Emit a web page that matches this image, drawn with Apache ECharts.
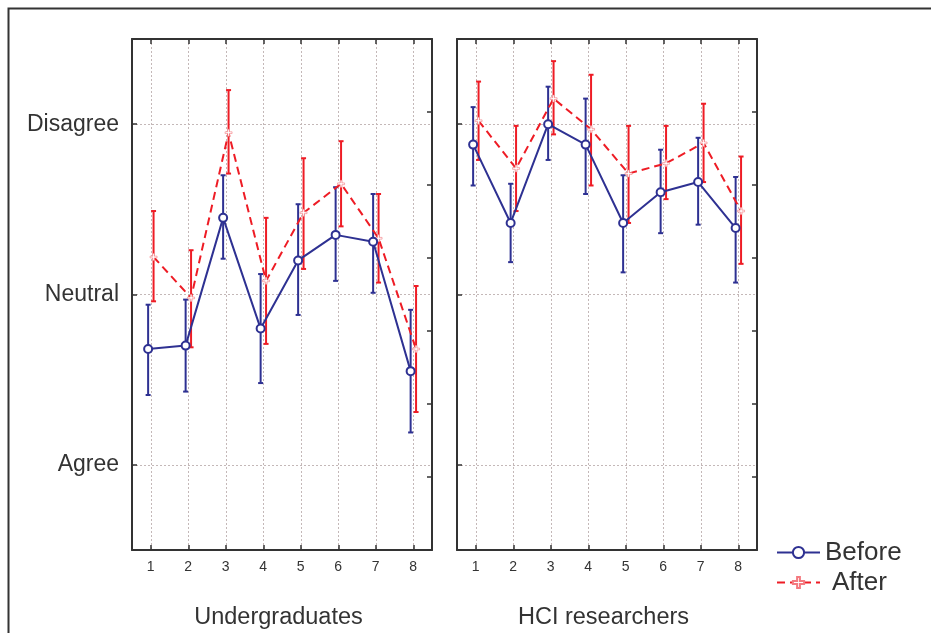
<!DOCTYPE html>
<html>
<head>
<meta charset="utf-8">
<script src="https://cdn.jsdelivr.net/npm/echarts@6/dist/echarts.min.js"></script>
<style>html,body{margin:0;padding:0;background:#fff;overflow:hidden;}#c{width:931px;height:633px;}</style>
</head>
<body>
<div id="c"></div>
<script>
// ---- data ----
const categories = ['1', '2', '3', '4', '5', '6', '7', '8'];
const yLevels = ['Agree', 'Neutral', 'Disagree']; // values 1, 2, 3
const panels = ['Undergraduates', 'HCI researchers'];
const seriesNames = ['Before', 'After'];

const ugBefore     = [1.68, 1.70, 2.45, 1.80, 2.20, 2.35, 2.31, 1.55];
const ugBeforeLow  = [1.41, 1.43, 2.21, 1.48, 1.88, 2.08, 2.01, 1.19];
const ugBeforeHigh = [1.94, 1.97, 2.70, 2.12, 2.53, 2.63, 2.59, 1.91];
const ugAfter      = [2.22, 1.98, 2.95, 2.08, 2.48, 2.65, 2.33, 1.68];
const ugAfterLow   = [1.96, 1.69, 2.71, 1.71, 2.15, 2.40, 2.07, 1.31];
const ugAfterHigh  = [2.49, 2.26, 3.20, 2.45, 2.80, 2.90, 2.59, 2.05];

const hciBefore     = [2.88, 2.42, 3.00, 2.88, 2.42, 2.60, 2.66, 2.39];
const hciBeforeLow  = [2.64, 2.19, 2.79, 2.59, 2.13, 2.36, 2.41, 2.07];
const hciBeforeHigh = [3.10, 2.65, 3.22, 3.15, 2.70, 2.85, 2.92, 2.69];
const hciAfter      = [3.02, 2.74, 3.15, 2.97, 2.71, 2.77, 2.89, 2.49];
const hciAfterLow   = [2.79, 2.49, 2.94, 2.64, 2.42, 2.56, 2.66, 2.18];
const hciAfterHigh  = [3.25, 2.99, 3.37, 3.29, 2.99, 2.99, 3.12, 2.81];

// ---- styling ----
const BLUE = '#2e3192';
const RED = '#ee1c25';
const TXT = '#333333';
const FONT = '"Liberation Sans", Arial, Helvetica, sans-serif';
const offBefore = -0.07, offAfter = 0.075;

const panelData = [
  {before: ugBefore, bLo: ugBeforeLow, bHi: ugBeforeHigh, after: ugAfter, aLo: ugAfterLow, aHi: ugAfterHigh},
  {before: hciBefore, bLo: hciBeforeLow, bHi: hciBeforeHigh, after: hciAfter, aLo: hciAfterLow, aHi: hciAfterHigh}
];

const grids = [
  {left: 132, top: 39, width: 300, height: 511, outerBoundsMode: 'none', containLabel: false},
  {left: 457, top: 39, width: 300, height: 511, outerBoundsMode: 'none', containLabel: false}
];

const xAxes = [], yAxes = [], series = [];
const gridLine = {show: true, showMinLine: false, showMaxLine: false, lineStyle: {color: '#c4b8b8', type: [2, 2], width: 1}};
const frameLine = {show: true, onZero: false, lineStyle: {color: '#333', width: 2}};
const tick = {show: true, inside: true, length: 5, lineStyle: {color: '#333', width: 1.5}};

function errRender(color) {
  return function (params, api) {
    const x = api.value(0), lo = api.value(1), hi = api.value(2);
    const a = api.coord([x, lo]), b = api.coord([x, hi]);
    const w = 2.5;
    const st = {stroke: color, lineWidth: 2};
    return {type: 'group', children: [
      {type: 'line', shape: {x1: a[0], y1: a[1], x2: b[0], y2: b[1]}, style: st},
      {type: 'line', shape: {x1: a[0] - w, y1: a[1], x2: a[0] + w, y2: a[1]}, style: st},
      {type: 'line', shape: {x1: b[0] - w, y1: b[1], x2: b[0] + w, y2: b[1]}, style: st}
    ]};
  };
}

panels.forEach((name, g) => {
  const xi = xAxes.length;
  xAxes.push({
    type: 'value', gridIndex: g, min: 0.5, max: 8.5, splitNumber: 8, position: 'bottom',
    name: name, nameLocation: 'middle', nameGap: 56,
    nameTextStyle: {fontSize: 23.5, color: TXT, fontFamily: FONT, padding: [0, 7, 0, 0]},
    axisLine: frameLine, axisTick: tick,
    axisLabel: {
      fontSize: 14, color: TXT, fontFamily: FONT, margin: 10,
      formatter: v => (Number.isInteger(v) && v >= 1 && v <= categories.length) ? categories[v - 1] : ''
    },
    splitLine: gridLine
  });
  xAxes.push({
    type: 'value', gridIndex: g, min: 0.5, max: 8.5, splitNumber: 8, position: 'top',
    axisLine: frameLine, axisTick: tick,
    axisLabel: {show: false}, splitLine: {show: false}
  });
  const yi = yAxes.length;
  yAxes.push({
    type: 'value', gridIndex: g, min: 0.5, max: 3.5, splitNumber: 3, position: 'left',
    axisLine: frameLine, axisTick: tick,
    axisLabel: {
      show: g === 0, fontSize: 23, color: TXT, fontFamily: FONT, margin: 13,
      formatter: v => (Number.isInteger(v) && v >= 1 && v <= yLevels.length) ? yLevels[v - 1] : ''
    },
    splitLine: gridLine
  });
  yAxes.push({
    type: 'value', gridIndex: g, min: 0, max: 7, interval: 1, position: 'right',
    axisLine: frameLine, axisTick: tick,
    axisLabel: {show: false}, splitLine: {show: false}
  });

  const d = panelData[g];
  const bErr = categories.map((c, i) => [i + 1 + offBefore, d.bLo[i], d.bHi[i]]);
  const aErr = categories.map((c, i) => [i + 1 + offAfter, d.aLo[i], d.aHi[i]]);
  series.push({
    type: 'custom', name: 'errB' + g, xAxisIndex: xi, yAxisIndex: yi, z: 2,
    renderItem: errRender(BLUE), encode: {x: 0, y: [1, 2]}, data: bErr, silent: true
  });
  series.push({
    type: 'custom', name: 'errA' + g, xAxisIndex: xi, yAxisIndex: yi, z: 2,
    renderItem: errRender(RED), encode: {x: 0, y: [1, 2]}, data: aErr, silent: true
  });
  series.push({
    type: 'line', name: seriesNames[1], xAxisIndex: xi, yAxisIndex: yi, z: 3,
    data: categories.map((c, i) => [i + 1 + offAfter, d.after[i]]),
    lineStyle: {color: RED, width: 2, type: [8, 5]},
    itemStyle: {color: '#fff', borderColor: '#f47a80', borderWidth: 0.6},
    symbol: 'path://M3,0 L5,0 L5,3 L8,3 L8,5 L5,5 L5,8 L3,8 L3,5 L0,5 L0,3 L3,3 Z',
    symbolSize: 7, showAllSymbol: true, animation: false
  });
  series.push({
    type: 'line', name: seriesNames[0], xAxisIndex: xi, yAxisIndex: yi, z: 4,
    data: categories.map((c, i) => [i + 1 + offBefore, d.before[i]]),
    lineStyle: {color: BLUE, width: 2},
    itemStyle: {color: '#fff', borderColor: BLUE, borderWidth: 2},
    symbol: 'circle', symbolSize: 8, showAllSymbol: true, animation: false
  });
});

const chart = echarts.init(document.getElementById('c'), null, {renderer: 'canvas'});
chart.setOption({
  backgroundColor: '#fff',
  animation: false,
  textStyle: {fontFamily: FONT},
  graphic: [{
    type: 'rect', left: 6, top: 6, z: -10,
    shape: {x: 0, y: 0, width: 1000, height: 1000},
    style: {fill: 'none', stroke: '#333', lineWidth: 2}
  }],
  legend: {
    data: [
      {name: seriesNames[0]},
      {name: seriesNames[1], textStyle: {padding: [0, 0, 0, 7]}}
    ],
    orient: 'vertical', left: 771, top: 533,
    itemWidth: 43, itemHeight: 14, itemGap: 1,
    textStyle: {fontSize: 26, color: TXT, fontFamily: FONT, lineHeight: 29},
    selectedMode: false
  },
  grid: grids,
  xAxis: xAxes,
  yAxis: yAxes,
  series: series
});
</script>
</body>
</html>
